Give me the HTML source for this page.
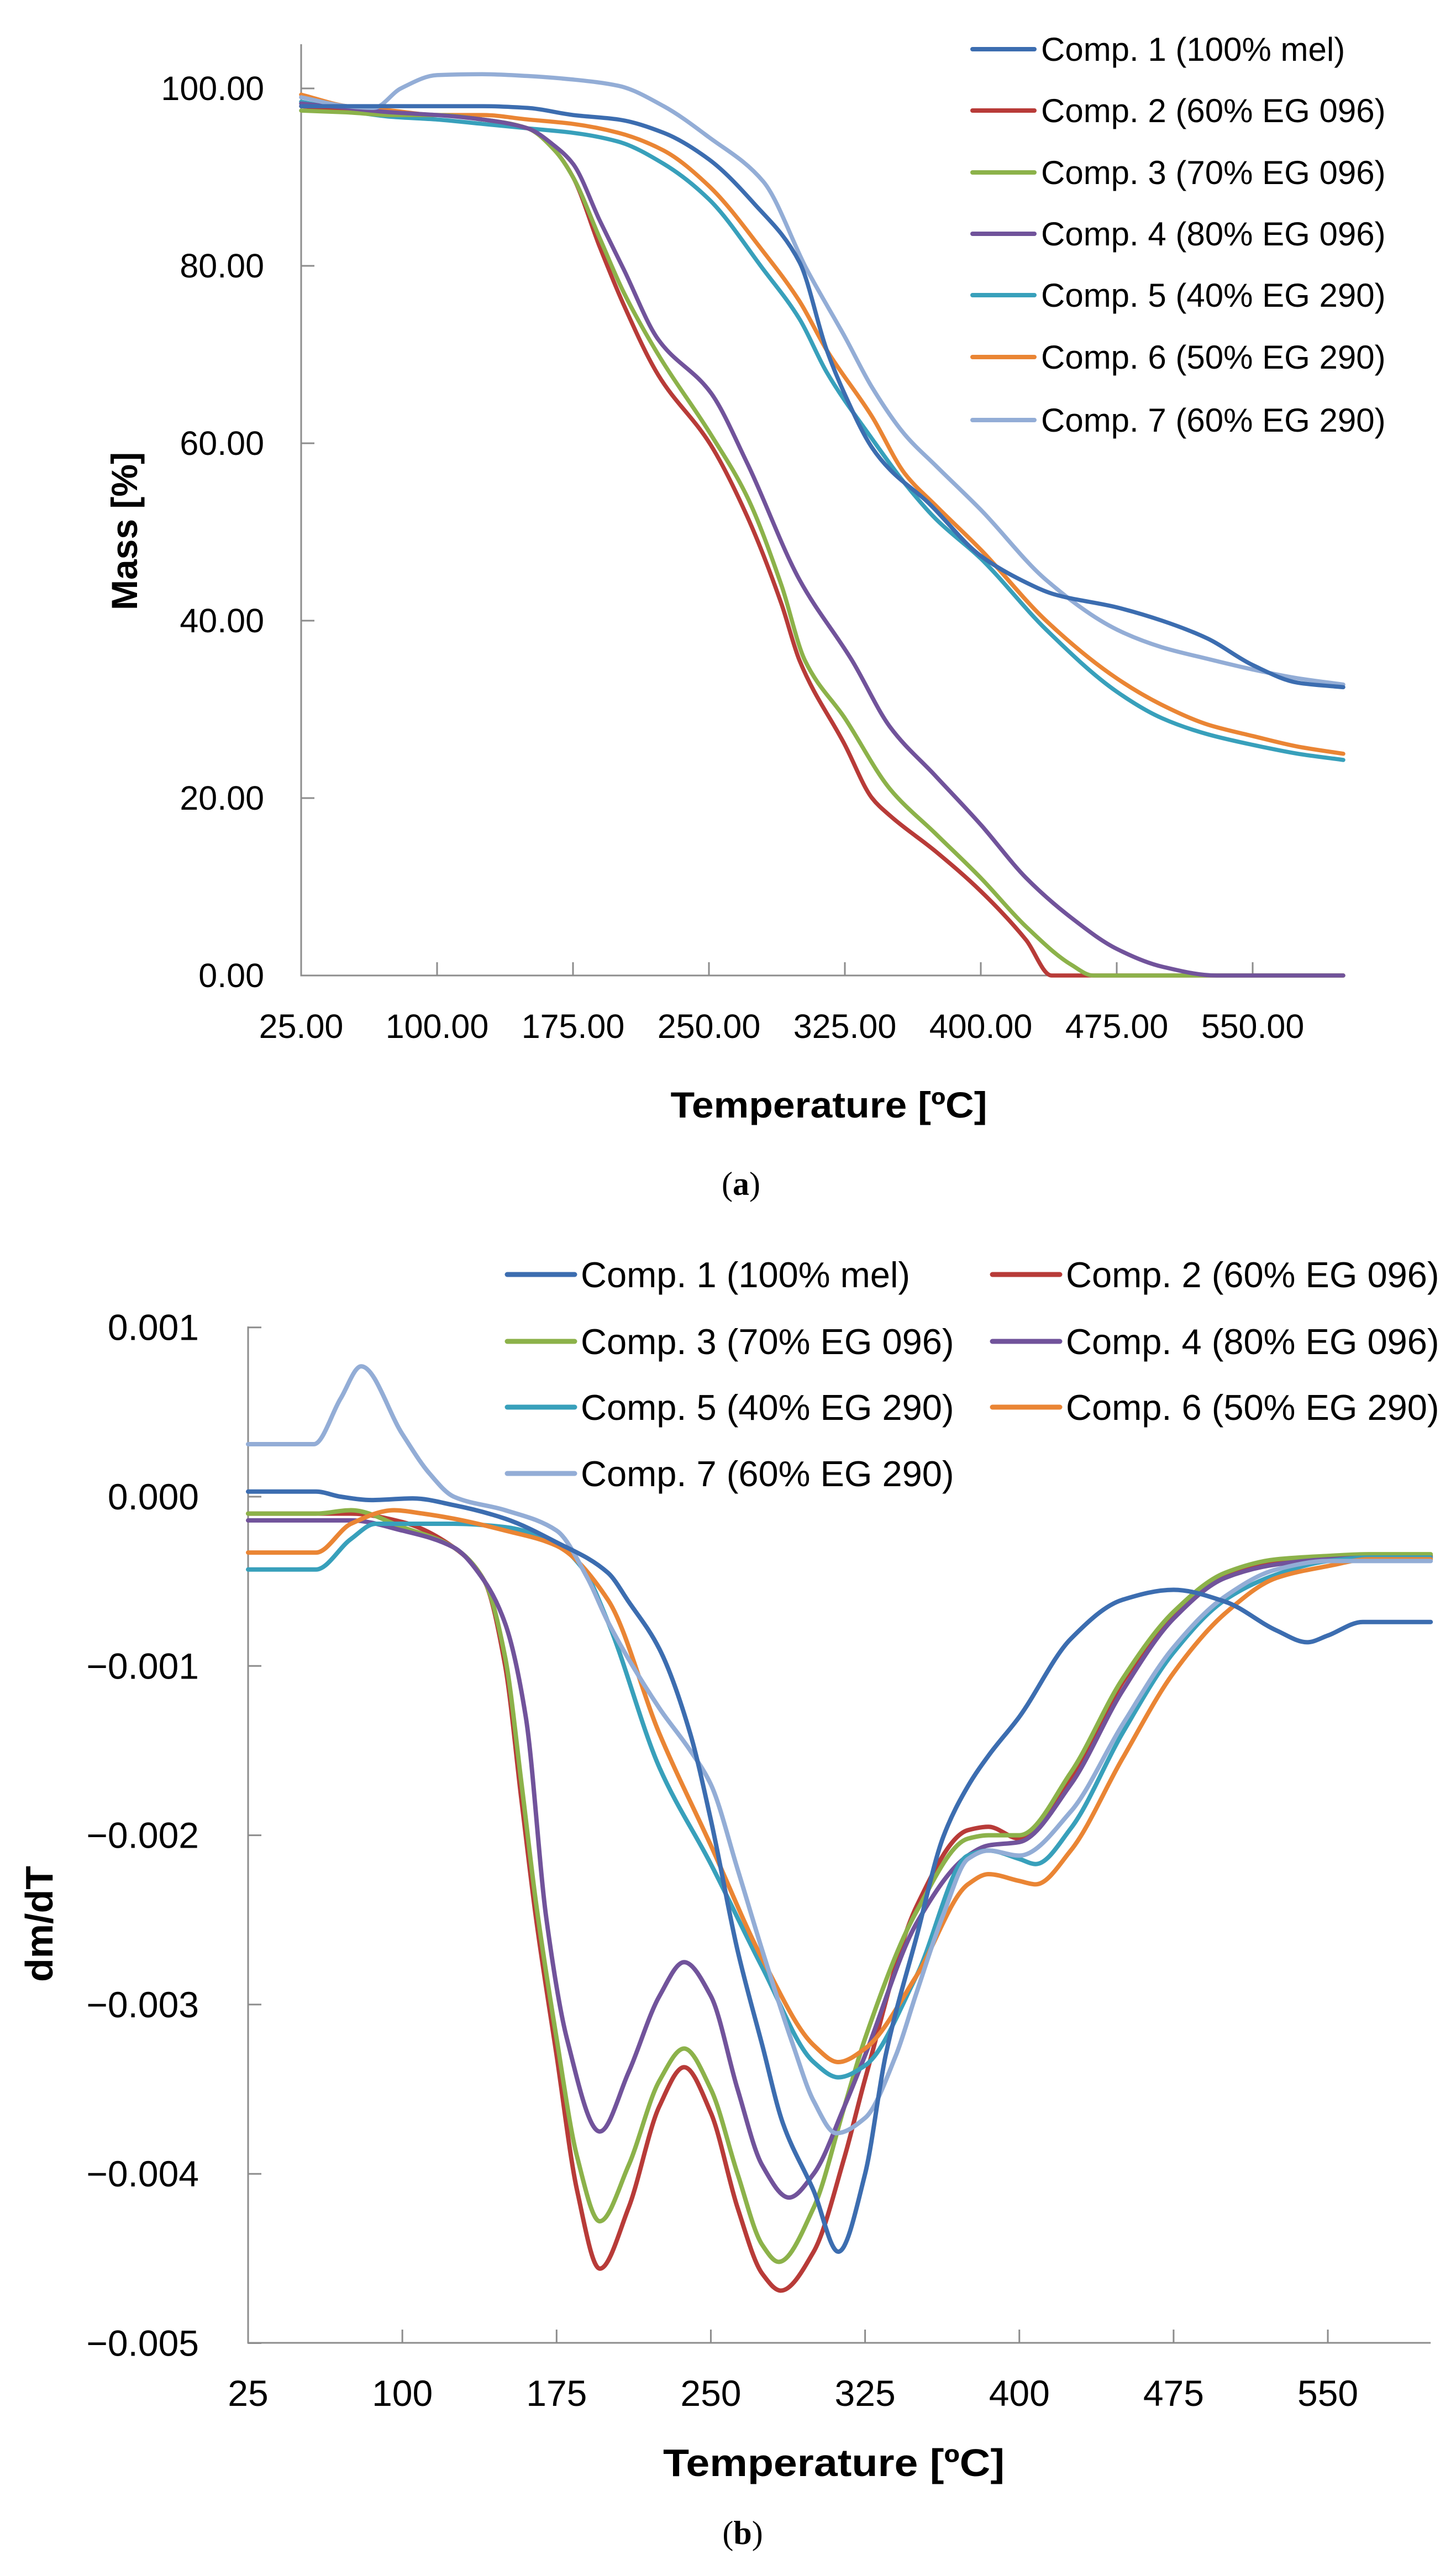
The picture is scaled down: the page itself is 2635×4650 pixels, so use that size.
<!DOCTYPE html>
<html><head><meta charset="utf-8"><style>
html,body{margin:0;padding:0;background:#fff;}
svg{display:block;}
text{font-family:"Liberation Sans",sans-serif;fill:#000;}
</style></head><body>
<svg id="fig" xmlns="http://www.w3.org/2000/svg" width="2635" height="4650" viewBox="0 0 2635 4650">
<rect x="0" y="0" width="2635" height="4650" fill="#fff"/>
<g id="chartA"></g>
<g id="chartB"></g>
<text x="0" y="0" transform="translate(248,961) rotate(-90)" text-anchor="middle" font-weight="bold" font-size="66">Mass [%]</text>
<text x="1500" y="2022" text-anchor="middle" font-weight="bold" font-size="66" textLength="573" lengthAdjust="spacingAndGlyphs">Temperature [ºC]</text>
<text x="1341" y="2162" text-anchor="middle" font-size="60" style="font-family:'Liberation Serif',serif">(<tspan font-weight="bold">a</tspan>)</text>
<text x="0" y="0" transform="translate(95,3481) rotate(-90)" text-anchor="middle" font-weight="bold" font-size="70">dm/dT</text>
<text x="1509" y="4480" text-anchor="middle" font-weight="bold" font-size="70" textLength="618" lengthAdjust="spacingAndGlyphs">Temperature [ºC]</text>
<text x="1344" y="4603" text-anchor="middle" font-size="60" style="font-family:'Liberation Serif',serif">(<tspan font-weight="bold">b</tspan>)</text>
</svg>
<script>
// ---------- Chart (a) data: Mass [%] ----------
const aNames = ["Comp. 1 (100% mel)","Comp. 2 (60% EG 096)","Comp. 3 (70% EG 096)","Comp. 4 (80% EG 096)","Comp. 5 (40% EG 290)","Comp. 6 (50% EG 290)","Comp. 7 (60% EG 290)"];
const aXTicks = [25,100,175,250,325,400,475,550];
const aXTickLabels = ["25.00","100.00","175.00","250.00","325.00","400.00","475.00","550.00"];
const aYTicks = [0,20,40,60,80,100];
const aYTickLabels = ["0.00","20.00","40.00","60.00","80.00","100.00"];
const aT1 = [25,50,75,100,125,150,175,200,225,250,275,300,315,325,340,350,370,400,425,440,475,500,525,550,575,600];
const aV1 = [98,98,98,98,98,97.8,97,96.5,95,92,87,80.4,70.5,65.5,59.5,57,53.5,47.3,44.3,43,41.5,40,38,35,33,32.5];
const aT2 = [25,50,75,100,125,150,165,175,190,203,222,251,271,290,300,325,340,350,375,400,425,439,460,600];
const aV2 = [98,97.5,97,97,96.5,95.5,93,90,82,75.6,67.7,59.8,51.8,41.9,35.5,26,20,18,14,9.5,4,0,0,0];
const aT3 = [25,50,75,100,125,150,165,175,190,203,222,251,271,290,303,325,350,375,400,425,450,462,600];
const aV3 = [97.5,97.3,97,97,96.5,95.5,93,90,83,77,70,61,54,44,35.5,29,21,16,11,5.5,1.2,0,0];
const aT4 = [25,50,75,100,125,150,165,175,190,203,222,251,271,300,329,350,375,400,425,450,475,500,530,600];
const aV4 = [98.3,97.8,97.3,97,96.5,95.5,93.5,91.5,85,79.6,71.7,65.7,57.8,44.6,35.5,28,22.5,17,11,6.5,3,1,0,0];
const aT5 = [25,50,75,100,125,150,175,200,225,250,280,300,315,340,358,375,400,436,475,500,525,550,575,600];
const aV5 = [98.5,97.5,96.8,96.5,96,95.5,95,94,91.5,87.5,79.6,74,68,60.5,55.5,51.5,47,39,32,29,27.2,26,25,24.3];
const aT6 = [25,50,75,100,125,150,175,200,225,250,280,300,315,340,358,375,400,436,475,500,525,550,575,600];
const aV6 = [99.3,98,97.5,97,97,96.5,96,95,93,89,81.6,76,70.5,63,56.6,53,48,40,33.5,30.5,28.3,27,25.8,25];
const aT7 = [25,50,65,80,100,125,150,175,200,225,250,280,304,325,340,358,375,400,436,475,500,525,550,575,600];
const aV7 = [99,98,97.8,100,101.5,101.6,101.4,101,100.3,98,94.5,89.5,79.6,72,66.3,61,57.5,52.5,44.6,39,37,35.7,34.5,33.5,32.8];

// ---------- Chart (b) data: dm/dT ----------
const bXTicks = [25,100,175,250,325,400,475,550];
const bXTickLabels = ["25","100","175","250","325","400","475","550"];
const bYTicks = [0.001,0,-0.001,-0.002,-0.003,-0.004,-0.005];
const bYTickLabels = ["0.001","0.000","\u22120.001","\u22120.002","\u22120.003","\u22120.004","\u22120.005"];
const bT1 = [25,58,70,85,105,125,150,175,200,210,225,240,250,263,275,285,300,312,325,335,350,363,375,385,400,425,450,475,500,525,540,550,567,600];
const bV1 = [0.00003,0.00003,0.0000,-0.00002,-0.00001,-0.00005,-0.00013,-0.00027,-0.00045,-0.00062,-0.0009,-0.0014,-0.00191,-0.00268,-0.00324,-0.0037,-0.0041,-0.00446,-0.0040,-0.0033,-0.0026,-0.00201,-0.00171,-0.00153,-0.0013,-0.00084,-0.00061,-0.00055,-0.00062,-0.00079,-0.00086,-0.00082,-0.00074,-0.00074];
const bT2 = [25,58,75,100,125,140,150,158,165,175,185,196,210,225,237,250,263,275,284,300,315,325,350,375,385,400,425,450,475,500,525,550,570,600];
const bV2 = [-0.0001,-0.0001,-0.0001,-0.00015,-0.0003,-0.0005,-0.001,-0.0018,-0.00249,-0.0033,-0.0041,-0.00456,-0.0042,-0.0036,-0.00337,-0.00364,-0.0042,-0.00459,-0.00469,-0.00446,-0.0039,-0.00344,-0.00242,-0.00197,-0.00195,-0.00202,-0.00166,-0.0011,-0.00069,-0.00046,-0.00038,-0.00036,-0.00035,-0.00035];
const bT3 = [25,58,75,100,125,140,150,158,165,175,185,196,210,225,237,250,263,275,283,300,315,325,350,375,385,400,425,450,475,500,525,550,570,600];
const bV3 = [-0.0001,-0.0001,-0.00008,-0.00018,-0.0003,-0.0005,-0.00095,-0.0017,-0.0024,-0.0032,-0.0039,-0.00428,-0.00395,-0.00345,-0.00326,-0.0035,-0.004,-0.00442,-0.00452,-0.0042,-0.0036,-0.0032,-0.00245,-0.00202,-0.002,-0.002,-0.00163,-0.00108,-0.00068,-0.00045,-0.00037,-0.00035,-0.00034,-0.00034];
const bT4 = [25,58,75,100,125,140,150,160,170,180,196,210,225,237,250,263,275,288,300,315,325,350,375,385,400,425,450,475,500,525,550,570,600];
const bV4 = [-0.00014,-0.00014,-0.00014,-0.0002,-0.0003,-0.0005,-0.00075,-0.0013,-0.00249,-0.0032,-0.00375,-0.0034,-0.00295,-0.00275,-0.00295,-0.0035,-0.00395,-0.00414,-0.004,-0.0036,-0.0033,-0.00252,-0.00212,-0.00206,-0.00204,-0.0017,-0.00115,-0.00072,-0.00048,-0.0004,-0.00037,-0.00036,-0.00036];
const bT5 = [25,58,75,87,100,125,150,175,188,200,225,250,275,300,312,325,350,375,385,400,408,425,450,475,500,525,550,570,600];
const bV5 = [-0.00043,-0.00043,-0.00025,-0.00016,-0.00016,-0.00016,-0.00018,-0.00028,-0.00043,-0.00074,-0.0016,-0.00217,-0.00278,-0.00334,-0.00343,-0.00336,-0.00283,-0.00212,-0.00209,-0.00214,-0.00217,-0.00196,-0.0014,-0.00092,-0.00061,-0.00046,-0.00038,-0.00036,-0.00036];
const bT6 = [25,58,75,96,110,125,150,175,200,225,250,275,300,312,325,350,375,385,400,408,425,450,475,500,525,550,570,600];
const bV6 = [-0.00033,-0.00033,-0.00016,-0.00008,-0.0001,-0.00013,-0.0002,-0.00029,-0.00061,-0.0014,-0.00206,-0.00273,-0.00324,-0.00334,-0.00326,-0.00283,-0.00229,-0.00223,-0.00227,-0.00229,-0.00209,-0.00155,-0.00104,-0.00069,-0.00048,-0.00041,-0.00037,-0.00037];
const bT7 = [25,57,70,80,100,113,125,150,175,190,200,225,240,250,263,275,290,300,311,325,340,350,363,375,385,400,425,450,475,500,525,550,570,600];
const bV7 = [0.00031,0.00031,0.00058,0.00077,0.00037,0.00014,0.0,-0.00008,-0.0002,-0.00048,-0.00074,-0.00125,-0.0015,-0.0017,-0.0022,-0.00268,-0.00324,-0.00357,-0.00376,-0.00367,-0.0033,-0.00293,-0.00247,-0.00214,-0.00209,-0.00212,-0.00186,-0.00135,-0.00089,-0.00059,-0.00043,-0.00038,-0.00038,-0.00038];

const colors = ["#3c6db0","#b83b38","#8cb24a","#71539b","#38a0bb","#ea8534","#93add6"];
const NS = "http://www.w3.org/2000/svg";

function mk(parent, tag, attrs, txt){
  const e = document.createElementNS(NS, tag);
  for (const k in attrs) e.setAttribute(k, attrs[k]);
  if (txt !== undefined) e.textContent = txt;
  parent.appendChild(e);
  return e;
}
// monotone cubic path
function monoPath(px, py){
  const n = px.length;
  if (n < 2) return "";
  const d = [], m = [];
  for (let i=0;i<n-1;i++) d.push((py[i+1]-py[i])/(px[i+1]-px[i]));
  m.push(d[0]);
  for (let i=1;i<n-1;i++){
    if (d[i-1]*d[i] <= 0) m.push(0);
    else { const w1 = 2*(px[i+1]-px[i])+(px[i]-px[i-1]), w2=(px[i+1]-px[i])+2*(px[i]-px[i-1]);
      m.push((w1+w2)/(w1/d[i-1]+w2/d[i])); }
  }
  m.push(d[n-2]);
  let s = "M"+px[0].toFixed(1)+","+py[0].toFixed(1);
  for (let i=0;i<n-1;i++){
    const h = px[i+1]-px[i];
    s += " C"+(px[i]+h/3).toFixed(1)+","+(py[i]+m[i]*h/3).toFixed(1)+" "+(px[i+1]-h/3).toFixed(1)+","+(py[i+1]-m[i+1]*h/3).toFixed(1)+" "+px[i+1].toFixed(1)+","+py[i+1].toFixed(1);
  }
  return s;
}

// ---------------- Chart A ----------------
(function(){
  const g = document.getElementById("chartA");
  const x = t => 545 + (t-25)*3.28;
  const y = v => 1765 - v*16.05;
  const xEnd = x(600);
  const ax = mk(g,"path",{d:"M545,80 L545,1765 L"+xEnd+",1765",fill:"none",stroke:"#8c8c8c","stroke-width":3});
  
  
  aYTicks.forEach((v,i)=>{
    const tk = mk(g,"line",{x1:545,x2:569,y1:y(v),y2:y(v),stroke:"#8c8c8c","stroke-width":3});
    
    
    const tl = mk(g,"text",{x:478,y:y(v)+21,"text-anchor":"end","font-size":61},aYTickLabels[i]);
    
    
  });
  aXTicks.forEach((t,i)=>{
    const tk = mk(g,"line",{x1:x(t),x2:x(t),y1:1765,y2:1741,stroke:"#8c8c8c","stroke-width":3});
    
    
    const tl = mk(g,"text",{x:x(t),y:1878,"text-anchor":"middle","font-size":61},aXTickLabels[i]);
    
    
  });
  const Ts=[aT1,aT2,aT3,aT4,aT5,aT6,aT7], Vs=[aV1,aV2,aV3,aV4,aV5,aV6,aV7];
  const order=[4,5,1,2,3,6,0];
  order.forEach(k=>{
    const p = mk(g,"path",{d:monoPath(Ts[k].map(x),Vs[k].map(y)),fill:"none",stroke:colors[k],"stroke-width":7.5,"stroke-linejoin":"round","stroke-linecap":"round"});
    
    
  });
  const rows=[89,200,312,423,534,646,760];
  aNames.forEach((n,k)=>{
    const le = mk(g,"g",{});
    
    
    mk(le,"line",{x1:1760,x2:1872,y1:rows[k],y2:rows[k],stroke:colors[k],"stroke-width":8,"stroke-linecap":"round"});
    mk(le,"text",{x:1884,y:rows[k]+21,"font-size":60},n);
  });
})();

// ---------------- Chart B ----------------
(function(){
  const g = document.getElementById("chartB");
  const x = t => 449 + (t-25)*3.722;
  const y = v => 2708 - v*306300;
  const xEnd = x(600);
  const ax = mk(g,"path",{d:"M449,2400 L449,4239 L"+xEnd+",4239",fill:"none",stroke:"#8c8c8c","stroke-width":3});
  
  
  bYTicks.forEach((v,i)=>{
    const tk = mk(g,"line",{x1:449,x2:473,y1:y(v),y2:y(v),stroke:"#8c8c8c","stroke-width":3});
    
    
    const tl = mk(g,"text",{x:360,y:y(v)+23,"text-anchor":"end","font-size":66},bYTickLabels[i]);
    
    
  });
  bXTicks.forEach((t,i)=>{
    const tk = mk(g,"line",{x1:x(t),x2:x(t),y1:4239,y2:4215,stroke:"#8c8c8c","stroke-width":3});
    
    
    const tl = mk(g,"text",{x:x(t),y:4353,"text-anchor":"middle","font-size":66},bXTickLabels[i]);
    
    
  });
  const Ts=[bT1,bT2,bT3,bT4,bT5,bT6,bT7], Vs=[bV1,bV2,bV3,bV4,bV5,bV6,bV7];
  const order=[1,2,3,4,5,6,0];
  order.forEach(k=>{
    const p = mk(g,"path",{d:monoPath(Ts[k].map(x),Vs[k].map(y)),fill:"none",stroke:colors[k],"stroke-width":8,"stroke-linejoin":"round","stroke-linecap":"round"});
    
    
  });
  const lx=[[918,1040,1051],[1796,1918,1929]];
  const ly=[2306,2427,2546,2666];
  aNames.forEach((n,k)=>{
    const c=k%2, r=Math.floor(k/2);
    const le = mk(g,"g",{});
    
    
    mk(le,"line",{x1:lx[c][0],x2:lx[c][1],y1:ly[r],y2:ly[r],stroke:colors[k],"stroke-width":9,"stroke-linecap":"round"});
    mk(le,"text",{x:lx[c][2],y:ly[r]+23,"font-size":65},n);
  });
})();
</script>
</body></html>
